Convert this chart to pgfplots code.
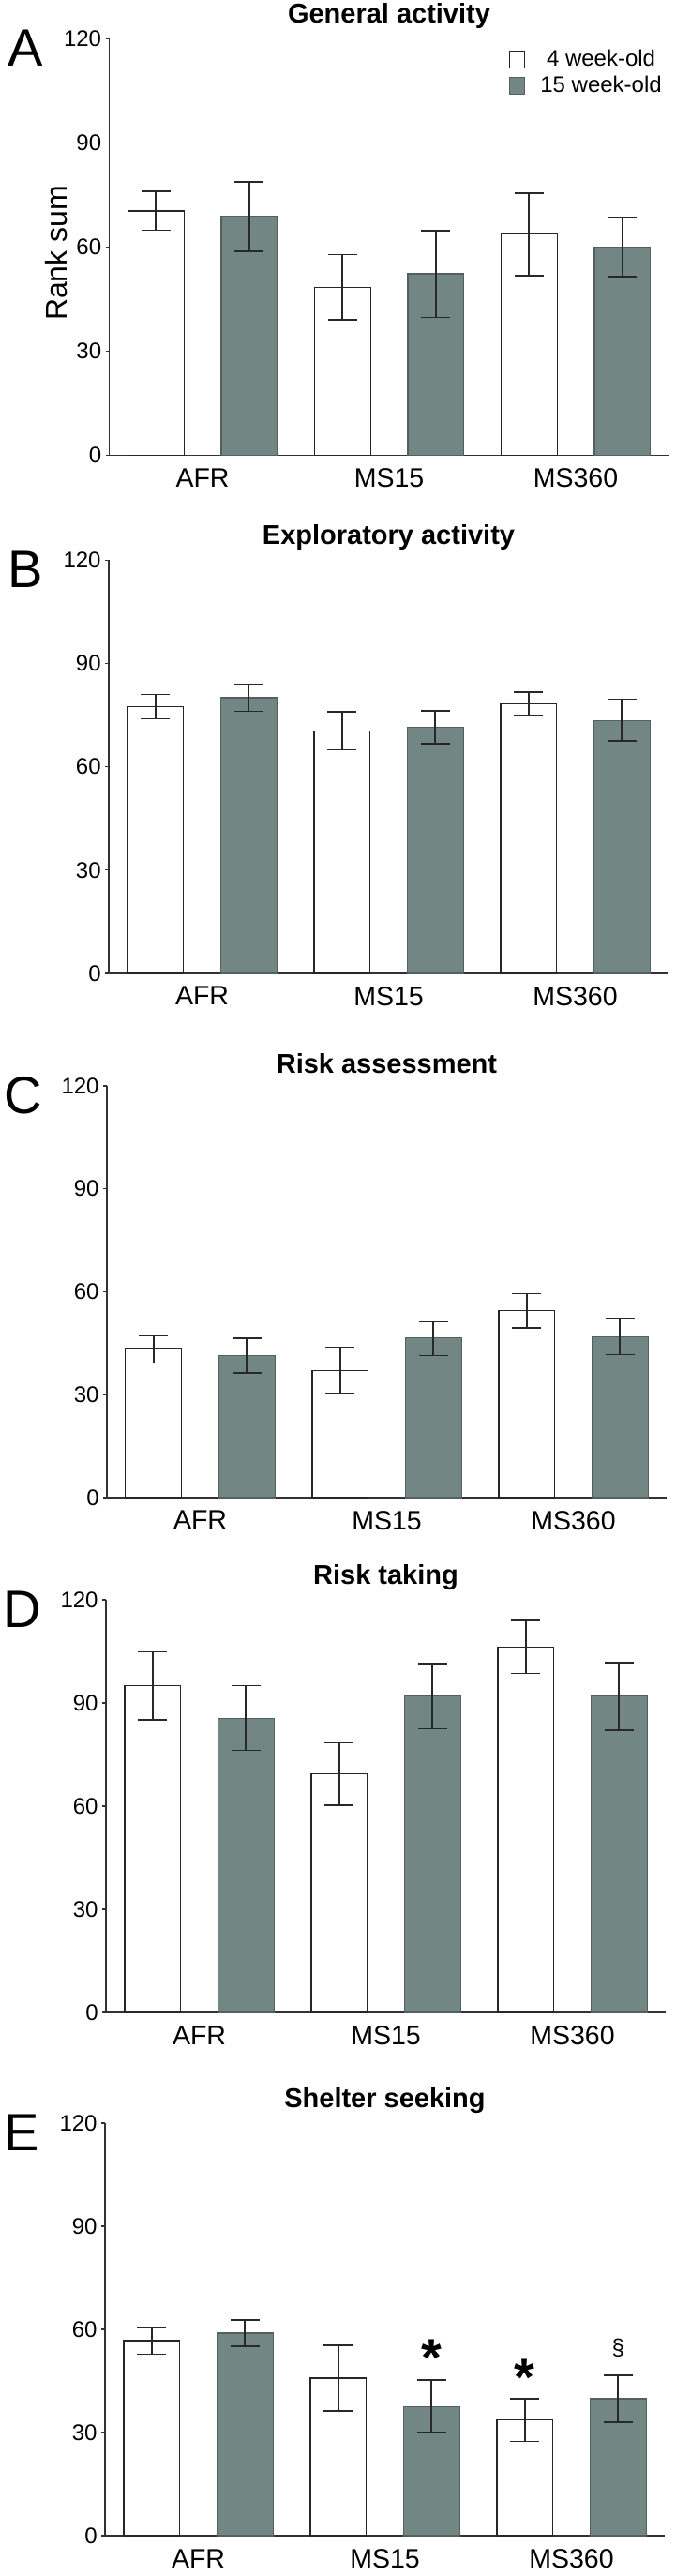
\documentclass[border=0pt]{standalone}
\usepackage{fontspec}
\setmainfont{Liberation Sans}
\usepackage{pgfplots}
\pgfplotsset{compat=1.18}
\definecolor{barg}{RGB}{114,134,131}
\definecolor{bargd}{RGB}{84,96,94}
\definecolor{axcol}{RGB}{50,50,50}
\definecolor{errc}{RGB}{40,40,40}
\pgfplotsset{
 panel/.style={
  scale only axis, width=298.5pt, clip=false,
  axis lines=left, axis line style={-, line width=0.75pt, color=axcol},
  xmin=-0.5, xmax=2.5, ymin=0, ymax=120,
  xtick={0,1,2}, xticklabels={AFR,MS15,MS360},
  ytick={0,30,60,90,120},
  tick align=outside, major tick length=2pt,
  xtick style={draw=none},
  ytick style={line width=0.6pt, color=axcol},
  /pgf/number format/assume math mode=true,
  yticklabel style={font=\fontsize{12}{14}\selectfont, inner sep=2pt},
  xticklabel style={font=\fontsize{14.25}{16}\selectfont, inner sep=0pt, anchor=north, yshift=-5pt},
  title style={font=\bfseries\fontsize{14.5}{16}\selectfont, at={(0.5,1)}, anchor=center, yshift=6pt},
 },
 wbar/.style={ybar, bar width=0.3, bar shift=0pt, fill=white, draw=black!85, line width=0.6pt,
   legend image code/.code={\draw[##1] (0pt,-4.5pt) rectangle (8pt,4.5pt);},
   error bars/.cd, y dir=both, y explicit,
   error bar style={line width=0.8pt, color=errc},
   error mark options={rotate=90, line width=0.8pt, color=errc, mark size=7.75pt}},
 gbar/.style={ybar, bar width=0.3, bar shift=0pt, fill=barg, draw=bargd, line width=0.6pt,
   legend image code/.code={\draw[##1] (0pt,-4.5pt) rectangle (8pt,4.5pt);},
   error bars/.cd, y dir=both, y explicit,
   error bar style={line width=0.8pt, color=errc},
   error mark options={rotate=90, line width=0.8pt, color=errc, mark size=7.75pt}},
}
\newcommand{\panelletter}[1]{\node[font=\fontsize{28}{30}\selectfont, inner sep=0pt] at (rel axis cs:0,1) [xshift=-44.5pt, yshift=-5pt] {#1};}
\begin{document}
\begin{tikzpicture}
\useasboundingbox (0,0) rectangle (360.5pt,1373.5pt);
% Panel A
\begin{axis}[panel, at={(58.25pt,1130.75pt)}, anchor=south west, height=222pt,
  title={General activity},
  legend style={at={(0.714,0.975)}, anchor=north west, draw=none, fill=none, inner sep=0pt,
    row sep=4pt, font=\fontsize{12}{14}\selectfont, nodes={inner sep=0pt},
    /tikz/every odd column/.append style={column sep=8pt}}]
\addplot[wbar] coordinates {(-0.25,70.4) += (0,5.6) -= (0,5.5) (0.75,48.4) += (0,9.4) -= (0,9.4) (1.75,63.7) += (0,11.9) -= (0,12.0)};
\addlegendentry{4 week-old}
\addplot[gbar] coordinates {(0.25,68.9) += (0,9.9) -= (0,10.2) (1.25,52.3) += (0,12.5) -= (0,12.6) (2.25,59.9) += (0,8.6) -= (0,8.5)};
\addlegendentry{15 week-old}
\panelletter{A}
\node[xshift=-28.25pt, yshift=-3.25pt, rotate=90, font=\fontsize{16}{18}\selectfont, inner sep=0pt] at (rel axis cs:0,0.5) {Rank sum};
\end{axis}
% Panel B
\begin{axis}[panel, at={(58pt,854.5pt)}, anchor=south west, height=220.25pt,
  title={Exploratory activity}]
\addplot[wbar] coordinates {(-0.25,77.5) += (0,3.5) -= (0,3.5) (0.75,70.4) += (0,5.6) -= (0,5.4) (1.75,78.3) += (0,3.5) -= (0,3.3)};
\addplot[gbar] coordinates {(0.25,80.1) += (0,3.8) -= (0,4.0) (1.25,71.5) += (0,4.8) -= (0,4.8) (2.25,73.5) += (0,6.2) -= (0,5.9)};
\panelletter{B}
\end{axis}
% Panel C
\begin{axis}[panel, at={(57pt,575pt)}, anchor=south west, height=219.5pt,
  title={Risk assessment}]
\addplot[wbar] coordinates {(-0.25,43.3) += (0,3.8) -= (0,4.1) (0.75,37.1) += (0,6.8) -= (0,6.7) (1.75,54.6) += (0,4.8) -= (0,5.1)};
\addplot[gbar] coordinates {(0.25,41.4) += (0,5.0) -= (0,5.0) (1.25,46.5) += (0,4.7) -= (0,5.1) (2.25,46.9) += (0,5.3) -= (0,5.2)};
\panelletter{C}
\end{axis}
% Panel D
\begin{axis}[panel, at={(56.5pt,300.5pt)}, anchor=south west, height=220pt,
  title={Risk taking}]
\addplot[wbar] coordinates {(-0.25,95.0) += (0,9.9) -= (0,9.9) (0.75,69.3) += (0,9.1) -= (0,9.1) (1.75,106.2) += (0,7.8) -= (0,7.6)};
\addplot[gbar] coordinates {(0.25,85.6) += (0,9.4) -= (0,9.4) (1.25,92.0) += (0,9.5) -= (0,9.5) (2.25,92.0) += (0,9.8) -= (0,9.9)};
\panelletter{D}
\end{axis}
% Panel E
\begin{axis}[panel, at={(56pt,21.5pt)}, anchor=south west, height=220pt,
  title={Shelter seeking}]
\addplot[wbar] coordinates {(-0.25,56.7) += (0,3.9) -= (0,3.9) (0.75,45.8) += (0,9.6) -= (0,9.6) (1.75,33.6) += (0,6.2) -= (0,6.2)};
\addplot[gbar] coordinates {(0.25,58.9) += (0,3.8) -= (0,3.8) (1.25,37.6) += (0,7.7) -= (0,7.6) (2.25,39.8) += (0,6.9) -= (0,6.8)};
\panelletter{E}
\node[font=\bfseries\fontsize{28}{30}\selectfont, inner sep=0pt] at (axis cs:1.25,53.8) [yshift=-4pt] {*};
\node[font=\bfseries\fontsize{28}{30}\selectfont, inner sep=0pt] at (axis cs:1.75,48.3) [yshift=-4pt] {*};
\node[font=\fontsize{12}{14}\selectfont, inner sep=0pt] at (axis cs:2.25,54.6) {\S};
\end{axis}
\end{tikzpicture}
\end{document}
